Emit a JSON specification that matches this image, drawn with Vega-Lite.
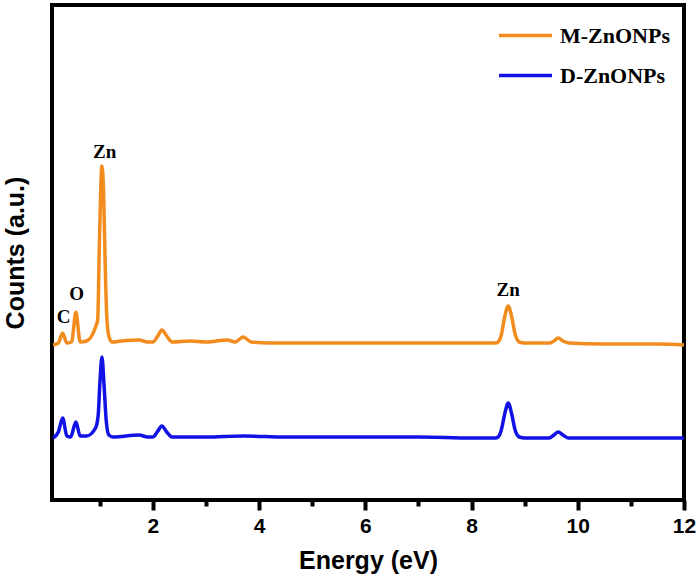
{
  "$schema": "https://vega.github.io/schema/vega-lite/v6.json",
  "autosize": "none",
  "padding": {"left": 52, "top": 5, "right": 14, "bottom": 83},
  "width": 632,
  "height": 495,
  "background": "white",
  "datasets": {
    "spectra": [
      {"series": "M-ZnONPs", "energy": 0.12, "counts": 155},
      {"series": "M-ZnONPs", "energy": 0.22, "counts": 157},
      {"series": "M-ZnONPs", "energy": 0.3, "counts": 167},
      {"series": "M-ZnONPs", "energy": 0.38, "counts": 157},
      {"series": "M-ZnONPs", "energy": 0.47, "counts": 158},
      {"series": "M-ZnONPs", "energy": 0.55, "counts": 188},
      {"series": "M-ZnONPs", "energy": 0.63, "counts": 158},
      {"series": "M-ZnONPs", "energy": 0.75, "counts": 159},
      {"series": "M-ZnONPs", "energy": 0.92, "counts": 173},
      {"series": "M-ZnONPs", "energy": 0.96, "counts": 180},
      {"series": "M-ZnONPs", "energy": 0.99, "counts": 250},
      {"series": "M-ZnONPs", "energy": 1.02, "counts": 315},
      {"series": "M-ZnONPs", "energy": 1.04, "counts": 334},
      {"series": "M-ZnONPs", "energy": 1.07, "counts": 310},
      {"series": "M-ZnONPs", "energy": 1.1, "counts": 240},
      {"series": "M-ZnONPs", "energy": 1.13, "counts": 185},
      {"series": "M-ZnONPs", "energy": 1.17, "counts": 164},
      {"series": "M-ZnONPs", "energy": 1.23, "counts": 158},
      {"series": "M-ZnONPs", "energy": 1.4, "counts": 159},
      {"series": "M-ZnONPs", "energy": 1.74, "counts": 160},
      {"series": "M-ZnONPs", "energy": 1.9, "counts": 158},
      {"series": "M-ZnONPs", "energy": 2.0, "counts": 158},
      {"series": "M-ZnONPs", "energy": 2.08, "counts": 163},
      {"series": "M-ZnONPs", "energy": 2.17, "counts": 170},
      {"series": "M-ZnONPs", "energy": 2.26, "counts": 164},
      {"series": "M-ZnONPs", "energy": 2.36, "counts": 158},
      {"series": "M-ZnONPs", "energy": 2.7, "counts": 159},
      {"series": "M-ZnONPs", "energy": 3.0, "counts": 158},
      {"series": "M-ZnONPs", "energy": 3.4, "counts": 160},
      {"series": "M-ZnONPs", "energy": 3.55, "counts": 158},
      {"series": "M-ZnONPs", "energy": 3.7, "counts": 163},
      {"series": "M-ZnONPs", "energy": 3.85, "counts": 158},
      {"series": "M-ZnONPs", "energy": 4.2, "counts": 157},
      {"series": "M-ZnONPs", "energy": 5.0, "counts": 157},
      {"series": "M-ZnONPs", "energy": 6.0, "counts": 157},
      {"series": "M-ZnONPs", "energy": 7.0, "counts": 157},
      {"series": "M-ZnONPs", "energy": 8.0, "counts": 157},
      {"series": "M-ZnONPs", "energy": 8.45, "counts": 157},
      {"series": "M-ZnONPs", "energy": 8.5, "counts": 158},
      {"series": "M-ZnONPs", "energy": 8.56, "counts": 165},
      {"series": "M-ZnONPs", "energy": 8.62, "counts": 182},
      {"series": "M-ZnONPs", "energy": 8.69, "counts": 194},
      {"series": "M-ZnONPs", "energy": 8.76, "counts": 182},
      {"series": "M-ZnONPs", "energy": 8.82, "counts": 166},
      {"series": "M-ZnONPs", "energy": 8.9, "counts": 158},
      {"series": "M-ZnONPs", "energy": 9.0, "counts": 157},
      {"series": "M-ZnONPs", "energy": 9.46, "counts": 157},
      {"series": "M-ZnONPs", "energy": 9.55, "counts": 159},
      {"series": "M-ZnONPs", "energy": 9.63, "counts": 162},
      {"series": "M-ZnONPs", "energy": 9.72, "counts": 159},
      {"series": "M-ZnONPs", "energy": 9.83, "counts": 157},
      {"series": "M-ZnONPs", "energy": 10.5, "counts": 156},
      {"series": "M-ZnONPs", "energy": 11.0, "counts": 156},
      {"series": "M-ZnONPs", "energy": 11.5, "counts": 156},
      {"series": "M-ZnONPs", "energy": 12.0, "counts": 155},
      {"series": "D-ZnONPs", "energy": 0.12, "counts": 62},
      {"series": "D-ZnONPs", "energy": 0.22, "counts": 68},
      {"series": "D-ZnONPs", "energy": 0.3, "counts": 82},
      {"series": "D-ZnONPs", "energy": 0.38, "counts": 64},
      {"series": "D-ZnONPs", "energy": 0.45, "counts": 63},
      {"series": "D-ZnONPs", "energy": 0.55, "counts": 78},
      {"series": "D-ZnONPs", "energy": 0.63, "counts": 64},
      {"series": "D-ZnONPs", "energy": 0.75, "counts": 64},
      {"series": "D-ZnONPs", "energy": 0.92, "counts": 72},
      {"series": "D-ZnONPs", "energy": 0.97, "counts": 85},
      {"series": "D-ZnONPs", "energy": 1.0, "counts": 115},
      {"series": "D-ZnONPs", "energy": 1.04, "counts": 143},
      {"series": "D-ZnONPs", "energy": 1.08, "counts": 115},
      {"series": "D-ZnONPs", "energy": 1.12, "counts": 80},
      {"series": "D-ZnONPs", "energy": 1.17, "counts": 65},
      {"series": "D-ZnONPs", "energy": 1.25, "counts": 63},
      {"series": "D-ZnONPs", "energy": 1.74, "counts": 65},
      {"series": "D-ZnONPs", "energy": 1.9, "counts": 63},
      {"series": "D-ZnONPs", "energy": 2.0, "counts": 63},
      {"series": "D-ZnONPs", "energy": 2.08, "counts": 68},
      {"series": "D-ZnONPs", "energy": 2.17, "counts": 74},
      {"series": "D-ZnONPs", "energy": 2.26, "counts": 68},
      {"series": "D-ZnONPs", "energy": 2.36, "counts": 63},
      {"series": "D-ZnONPs", "energy": 3.0, "counts": 63},
      {"series": "D-ZnONPs", "energy": 3.7, "counts": 64},
      {"series": "D-ZnONPs", "energy": 4.5, "counts": 63},
      {"series": "D-ZnONPs", "energy": 6.0, "counts": 63},
      {"series": "D-ZnONPs", "energy": 7.0, "counts": 63},
      {"series": "D-ZnONPs", "energy": 8.0, "counts": 62},
      {"series": "D-ZnONPs", "energy": 8.45, "counts": 62},
      {"series": "D-ZnONPs", "energy": 8.5, "counts": 63},
      {"series": "D-ZnONPs", "energy": 8.56, "counts": 70},
      {"series": "D-ZnONPs", "energy": 8.62, "counts": 85},
      {"series": "D-ZnONPs", "energy": 8.69, "counts": 97},
      {"series": "D-ZnONPs", "energy": 8.76, "counts": 85},
      {"series": "D-ZnONPs", "energy": 8.82, "counts": 70},
      {"series": "D-ZnONPs", "energy": 8.9, "counts": 63},
      {"series": "D-ZnONPs", "energy": 9.0, "counts": 62},
      {"series": "D-ZnONPs", "energy": 9.46, "counts": 62},
      {"series": "D-ZnONPs", "energy": 9.55, "counts": 65},
      {"series": "D-ZnONPs", "energy": 9.63, "counts": 68},
      {"series": "D-ZnONPs", "energy": 9.72, "counts": 65},
      {"series": "D-ZnONPs", "energy": 9.83, "counts": 62},
      {"series": "D-ZnONPs", "energy": 10.5, "counts": 62},
      {"series": "D-ZnONPs", "energy": 11.5, "counts": 62},
      {"series": "D-ZnONPs", "energy": 12.0, "counts": 62}
    ],
    "peaks": [
      {"element": "C", "energy": 0.317, "counts": 177},
      {"element": "O", "energy": 0.565, "counts": 200},
      {"element": "Zn", "energy": 1.09, "counts": 342},
      {"element": "Zn", "energy": 8.69, "counts": 204}
    ]
  },
  "layer": [
    {
      "data": {"name": "spectra"},
      "mark": {"type": "line", "strokeWidth": 3.5, "interpolate": "monotone"},
      "encoding": {
        "x": {
          "field": "energy",
          "type": "quantitative",
          "scale": {"domain": [0.1, 12], "nice": false, "zero": false},
          "axis": {
            "title": "Energy (eV)",
            "values": [1, 2, 3, 4, 5, 6, 7, 8, 9, 10, 11, 12],
            "labelExpr": "datum.value % 2 === 0 ? datum.label : ''",
            "labelFlush": false,
            "labelOverlap": false,
            "grid": false,
            "domain": false,
            "tickColor": "black",
            "tickWidth": 4,
            "tickSize": {"condition": {"test": "datum.value % 2 === 0", "value": 10}, "value": 6},
            "labelFont": "Liberation Sans",
            "labelFontWeight": "bold",
            "labelFontSize": 21,
            "labelColor": "black",
            "labelPadding": 5,
            "titleFont": "Liberation Sans",
            "titleFontWeight": "bold",
            "titleFontSize": 25,
            "titleColor": "black",
            "titlePadding": 12
          }
        },
        "y": {
          "field": "counts",
          "type": "quantitative",
          "scale": {"domain": [0, 495], "nice": false},
          "axis": {
            "title": "Counts (a.u.)",
            "labels": false,
            "ticks": false,
            "domain": false,
            "grid": false,
            "titleFont": "Liberation Sans",
            "titleFontWeight": "bold",
            "titleFontSize": 25,
            "titleColor": "black",
            "titlePadding": 24
          }
        },
        "color": {
          "field": "series",
          "type": "nominal",
          "scale": {"domain": ["M-ZnONPs", "D-ZnONPs"], "range": ["#F28C1E", "#1212E6"]},
          "legend": {
            "title": null,
            "orient": "none",
            "legendX": 445,
            "legendY": 2,
            "symbolType": "stroke",
            "symbolSize": 2809,
            "symbolStrokeWidth": 3.5,
            "labelFont": "Liberation Serif",
            "labelFontWeight": "bold",
            "labelFontSize": 22,
            "labelColor": "black",
            "labelOffset": 6,
            "rowPadding": -26
          }
        },
        "detail": {"field": "series"}
      }
    },
    {
      "data": {"name": "peaks"},
      "mark": {
        "type": "text",
        "font": "Liberation Serif",
        "fontWeight": "bold",
        "fontSize": 19,
        "color": "black",
        "baseline": "alphabetic",
        "align": "center"
      },
      "encoding": {
        "x": {"field": "energy", "type": "quantitative"},
        "y": {"field": "counts", "type": "quantitative"},
        "text": {"field": "element"}
      }
    }
  ],
  "config": {
    "view": {"stroke": "black", "strokeWidth": 4}
  }
}
